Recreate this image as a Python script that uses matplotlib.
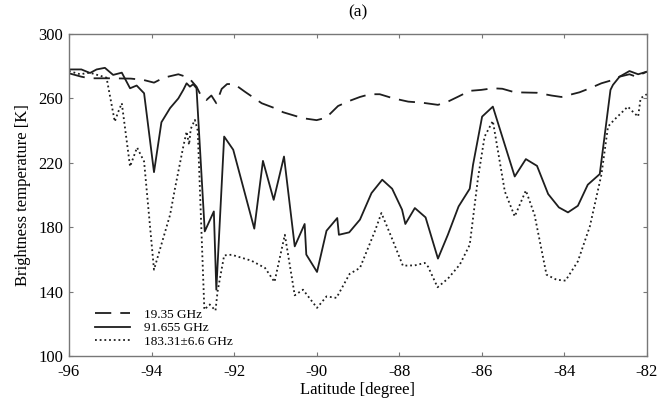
import matplotlib
matplotlib.use("Agg")
import matplotlib.pyplot as plt

plt.rcParams["font.family"] = ["Liberation Serif", "DejaVu Serif"]

# 19.35 GHz channel
lat_19 = [-96.0, -95.7, -95.5, -95.0, -94.5, -94.2, -93.94, -93.7, -93.35, -93.1,
          -92.91, -92.79, -92.67, -92.55, -92.43, -92.3, -92.17, -92.0, -91.74, -91.33,
          -91.01, -90.81, -90.33, -90.0, -89.77, -89.48, -89.2, -88.95, -88.71, -88.47,
          -88.15, -87.78, -87.46, -87.06, -86.82, -86.57, -86.29, -86.01, -85.73, -85.5,
          -85.2, -84.66, -84.31, -84.07, -83.63, -83.38, -83.1, -82.82, -82.66, -82.42,
          -82.26, -82.0]
tb_19 = [275.6, 273.5, 272.5, 272.5, 272.3, 271.5, 269.8, 272.9, 275.0, 272.9,
         267.3, 261.1, 259.0, 261.8, 257.0, 265.9, 268.9, 269.0, 264.2, 257.0,
         253.9, 251.4, 247.7, 246.5, 248.0, 255.3, 258.5, 260.9, 262.6, 262.6,
         260.1, 258.0, 257.4, 256.0, 258.0, 261.1, 264.7, 265.3, 266.3, 266.0,
         263.8, 263.5, 261.8, 260.9, 263.8, 266.3, 269.4, 271.5, 273.5, 275.0,
         273.5, 276.6]

# 91.655 GHz channel
lat_91 = [-96.0, -95.7, -95.49, -95.33, -95.13, -94.93, -94.72, -94.52, -94.36, -94.18,
          -93.94, -93.76, -93.55, -93.35, -93.23, -93.15, -93.07, -92.99, -92.91, -92.71,
          -92.49, -92.43, -92.24, -92.02, -91.51, -91.3, -91.04, -90.79, -90.53, -90.29,
          -90.25, -89.99, -89.76, -89.5, -89.46, -89.21, -88.95, -88.67, -88.41, -88.17,
          -87.93, -87.85, -87.62, -87.36, -87.06, -86.82, -86.56, -86.29, -86.21, -85.99,
          -85.73, -85.2, -84.93, -84.66, -84.39, -84.13, -83.91, -83.67, -83.43, -83.14,
          -82.88, -82.82, -82.66, -82.42, -82.21, -82.0]
tb_91 = [278.0, 278.0, 275.8, 278.0, 279.0, 274.6, 276.0, 266.3, 268.0, 263.2,
         214.2, 245.2, 254.0, 260.0, 265.3, 269.4, 267.3, 268.8, 266.3, 177.4,
         189.8, 141.2, 236.3, 228.1, 179.1, 221.2, 197.0, 223.9, 168.1, 182.0,
         163.0, 152.2, 177.8, 185.7, 175.3, 176.8, 184.7, 201.2, 209.5, 203.9,
         190.9, 182.0, 191.9, 186.1, 160.5, 175.3, 192.9, 203.9, 218.8, 248.7,
         254.9, 211.5, 222.3, 218.1, 200.6, 192.3, 189.2, 193.3, 206.4, 213.0,
         265.3, 268.4, 273.5, 277.0, 275.0, 276.6]

# 183.31±6.6 GHz channel
lat_183 = [-96.0, -95.73, -95.5, -95.09, -94.89, -94.81, -94.72, -94.52, -94.35, -94.18,
           -93.94, -93.55, -93.43, -93.23, -93.15, -93.09, -93.05, -92.95, -92.88, -92.72,
           -92.59, -92.45, -92.4, -92.24, -92.06, -91.58, -91.25, -91.02, -90.77, -90.53,
           -90.33, -89.99, -89.76, -89.52, -89.2, -88.95, -88.59, -88.43, -88.19, -87.91,
           -87.62, -87.38, -87.3, -87.07, -86.82, -86.53, -86.29, -86.09, -85.93, -85.73,
           -85.44, -85.2, -84.93, -84.72, -84.43, -84.19, -83.97, -83.67, -83.38, -83.1,
           -82.94, -82.79, -82.46, -82.33, -82.21, -82.15, -82.0]
tb_183 = [277.0, 275.0, 276.0, 272.9, 245.6, 251.4, 257.0, 217.7, 229.5, 220.8,
          153.6, 187.7, 204.3, 230.1, 239.4, 231.2, 241.0, 246.7, 240.0, 128.8,
          132.0, 128.2, 140.0, 162.5, 162.9, 159.2, 154.7, 146.0, 175.3, 137.7,
          141.2, 129.9, 137.0, 136.1, 151.0, 154.7, 177.4, 188.8, 174.0, 156.1,
          156.3, 157.8, 155.5, 142.7, 148.0, 156.8, 169.1, 210.5, 236.3, 246.0,
          202.2, 186.7, 202.8, 187.7, 150.5, 147.4, 146.8, 158.8, 180.5, 212.6,
          242.5, 246.7, 254.9, 251.5, 248.7, 260.1, 262.6]

labels = ["19.35 GHz", "91.655 GHz", "183.31±6.6 GHz"]
x_ticks = [-96, -94, -92, -90, -88, -86, -84, -82]
y_ticks = [100, 140, 180, 220, 260, 300]

fig = plt.figure(figsize=(6.6, 4.05), dpi=100)
ax = fig.add_axes([0.1045, 0.121, 0.8755, 0.795])

line_color = "#1e1e1e"
ax.plot(lat_19, tb_19, color=line_color, lw=1.3, linestyle=(0, (9, 5)), label=labels[0])
ax.plot(lat_91, tb_91, color=line_color, lw=1.3, linestyle="-", label=labels[1])
ax.plot(lat_183, tb_183, color=line_color, lw=1.3, linestyle=(0, (1, 1.6)), label=labels[2])

ax.set_xlim(-96, -82)
ax.set_ylim(100, 300)
ax.set_xticks(x_ticks)
ax.set_yticks(y_ticks)
ax.set_xticklabels([str(t) for t in x_ticks])
ax.tick_params(direction="in", top=True, right=True, length=3, width=0.8,
               color="#777777", labelsize=12)
ax.tick_params(axis="y", pad=4)
ax.tick_params(axis="x", pad=6)
for s in ax.spines.values():
    s.set_color("#777777")
    s.set_linewidth(1.0)

ax.set_xlabel("Latitude [degree]", fontsize=12, labelpad=1)
ax.set_ylabel("Brightness temperature [K]", fontsize=12, labelpad=5)
ax.set_title("(a)", fontsize=12.5, pad=13)

ax.legend(loc="lower left", bbox_to_anchor=(0.024, -0.012), frameon=False,
          fontsize=9.5, handlelength=2.65, handletextpad=1.05, labelspacing=0.1)

fig.savefig("out.png", dpi=100)
